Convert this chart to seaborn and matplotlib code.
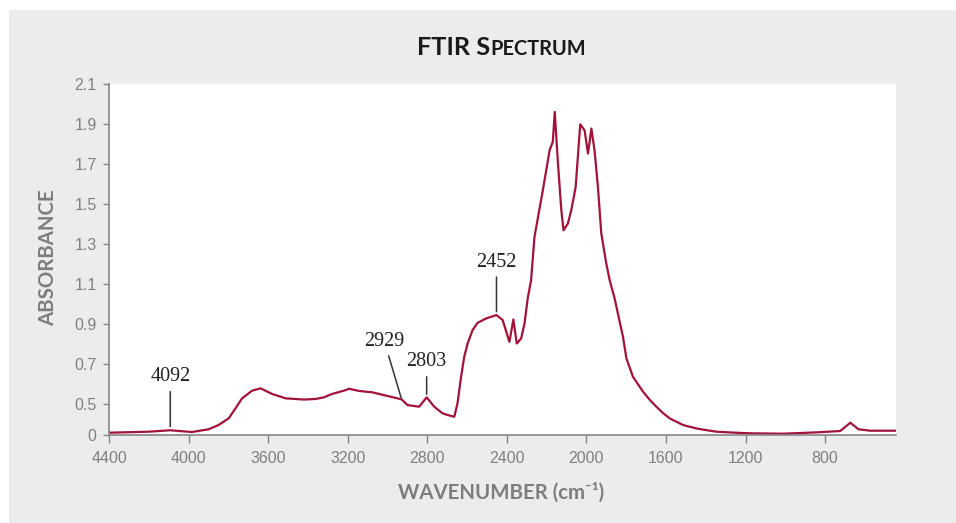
import numpy as np
import pandas as pd
import matplotlib
matplotlib.use("Agg")
import matplotlib.pyplot as plt
import seaborn as sns
from matplotlib.patches import Rectangle

# ---------------- data ----------------
wavenumber = [4400, 4201, 4092, 3983, 3899, 3849, 3798, 3764, 3731, 3681, 3638, 3580,
              3512, 3420, 3361, 3320, 3278, 3210, 3193, 3143, 3076, 2929, 2900, 2841, 2803,
              2765, 2723, 2698, 2664, 2648, 2630, 2614, 2597, 2572, 2547, 2504, 2452, 2421,
              2387, 2367, 2350, 2328, 2311, 2295, 2278, 2261, 2219, 2185, 2169, 2159, 2144,
              2126, 2115, 2093, 2076, 2054, 2031, 2009, 1992, 1975, 1959, 1942, 1925, 1900,
              1883, 1858, 1849, 1816, 1799, 1766, 1715, 1681, 1648, 1615, 1581, 1514, 1496,
              1440, 1379, 1345, 1250, 1177, 1010, 841, 724, 673, 632, 573, 443]
absorbance = [0.037, 0.053, 0.076, 0.048, 0.092, 0.161, 0.269, 0.430, 0.528, 0.566, 0.578, 0.550,
              0.528, 0.522, 0.525, 0.533, 0.550, 0.569, 0.576, 0.565, 0.558, 0.523, 0.483, 0.455, 0.533,
              0.455, 0.349, 0.322, 0.294, 0.503, 0.636, 0.736, 0.802, 0.869, 0.905, 0.927, 0.944, 0.919,
              0.810, 0.922, 0.802, 0.827, 0.902, 1.027, 1.118, 1.334, 1.567, 1.766, 1.808, 1.958, 1.717,
              1.467, 1.367, 1.401, 1.467, 1.583, 1.896, 1.866, 1.750, 1.875, 1.766, 1.583, 1.351, 1.201,
              1.118, 1.027, 0.985, 0.835, 0.728, 0.636, 0.561, 0.520, 0.455, 0.354, 0.267, 0.161, 0.145,
              0.101, 0.069, 0.053, 0.037, 0.027, 0.021, 0.043, 0.064, 0.198, 0.092, 0.069, 0.069]

peak_positions = [4092, 2929, 2803, 2452]
peak_labels = ["4092", "2929", "2803", "2452"]

x_ticks = [4400, 4000, 3600, 3200, 2800, 2400, 2000, 1600, 1200, 800]
x_tick_labels = ["4400", "4000", "3600", "3200", "2800", "2400", "2000", "1600", "1200", "800"]
y_ticks = [0, 0.5, 0.7, 0.9, 1.1, 1.3, 1.5, 1.7, 1.9, 2.1]
y_tick_labels = ["0", "0.5", "0.7", "0.9", "1.1", "1.3", "1.5", "1.7", "1.9", "2.1"]

title_big = "FTIR S"
title_small = "PECTRUM"
x_label = "WAVENUMBER (cm\u207b\u00b9)"
y_label = "ABSORBANCE"

# ---------------- style ----------------
sns.set_theme(style="white")
plt.rcParams["font.family"] = ["Liberation Sans", "DejaVu Sans"]

W, H = 956, 523
LINE = "#a3123a"
GRAY = "#858585"
LBL = "#7d7d7d"

fig = plt.figure(figsize=(W / 100, H / 100), dpi=100)
fig.patch.set_facecolor("white")
fig.patches.append(Rectangle((9 / W, 0), 1, 1 - 10 / H, transform=fig.transFigure,
                             facecolor="#ececec", edgecolor="none", zorder=-10))

ax = fig.add_axes([109 / W, 1 - 435 / H, (895.7 - 109) / W, (435 - 83.5) / H])
ax.set_facecolor("white")


def fwd(y):
    y = np.asarray(y, dtype=float)
    return np.where(y < 0.5, 0.345 + y * 0.31, y)


def inv(t):
    t = np.asarray(t, dtype=float)
    return np.where(t < 0.5, (t - 0.345) / 0.31, t)


df = pd.DataFrame({"wavenumber": wavenumber, "absorbance": absorbance})
sns.lineplot(data=df, x="wavenumber", y="absorbance", ax=ax, color=LINE,
             linewidth=1.6, estimator=None, sort=False)

ax.set_yscale("function", functions=(fwd, inv))
ax.set_xlim(4400, 445)
ax.set_ylim(0, 2.1)
ax.set_xticks(x_ticks)
ax.set_xticklabels(x_tick_labels)
ax.set_yticks(y_ticks)
ax.set_yticklabels(y_tick_labels)
ax.minorticks_off()
ax.set_xlabel("")
ax.set_ylabel("")

for s in ["top", "right"]:
    ax.spines[s].set_visible(False)
for s in ["left", "bottom"]:
    ax.spines[s].set_color(GRAY)
    ax.spines[s].set_linewidth(1.2)

ax.tick_params(axis="y", direction="out", length=4.5, width=1, color=GRAY,
               labelcolor="#7f7f7f", labelsize=11.5, pad=4.5, left=True)
ax.tick_params(axis="x", direction="out", length=5.8, width=1, color=GRAY,
               labelcolor="#7f7f7f", labelsize=11.5, pad=6, bottom=True)

# annotations
wn_sorted = np.array(wavenumber[::-1], dtype=float)
ab_sorted = np.array(absorbance[::-1], dtype=float)
offsets = {"4092": (0, 38.5, 2.6), "2929": (-12.5, 42.0, 1.0),
           "2803": (0, 25.5, 2.2), "2452": (0, 38.0, 2.4)}
for pos, lab in zip(peak_positions, peak_labels):
    yv = float(np.interp(pos, wn_sorted, ab_sorted))
    dx, dy, shr = offsets[lab]
    ax.annotate(lab, xy=(pos, yv), xytext=(dx, dy), textcoords="offset points",
                ha="center", va="center", fontsize=14.5, color="#222222",
                family=["Liberation Serif", "DejaVu Serif"],
                arrowprops=dict(arrowstyle="-", color="#333333", lw=1.1,
                                shrinkA=-1.5, shrinkB=shr))

# axis labels
fig.text(501 / W, 1 - 493 / H, x_label, ha="center", va="center", fontsize=14.7,
         fontweight="bold", color=LBL, family=["Lato", "DejaVu Sans"])
fig.text(48 / W, 1 - 258 / H, y_label, ha="center", va="center", rotation=90,
         fontsize=14.7, fontweight="bold", color=LBL, family=["Lato", "DejaVu Sans"])

# title with small caps
base_y = 1 - 55 / H
t1 = fig.text(0, base_y, title_big, fontsize=18.3, fontweight="bold", color="#1a1a1a",
              va="baseline", ha="left", family=["Lato", "DejaVu Sans"])
t2 = fig.text(0, base_y, title_small, fontsize=14.4, fontweight="bold", color="#1a1a1a",
              va="baseline", ha="left", family=["Lato", "DejaVu Sans"])
fig.canvas.draw()
r = fig.canvas.get_renderer()
w1 = t1.get_window_extent(r).width
w2 = t2.get_window_extent(r).width
x0 = 501.7 - (w1 + w2) / 2
t1.set_x(x0 / W)
t2.set_x((x0 + w1) / W)

fig.savefig("out.png", dpi=100, facecolor=fig.get_facecolor())
